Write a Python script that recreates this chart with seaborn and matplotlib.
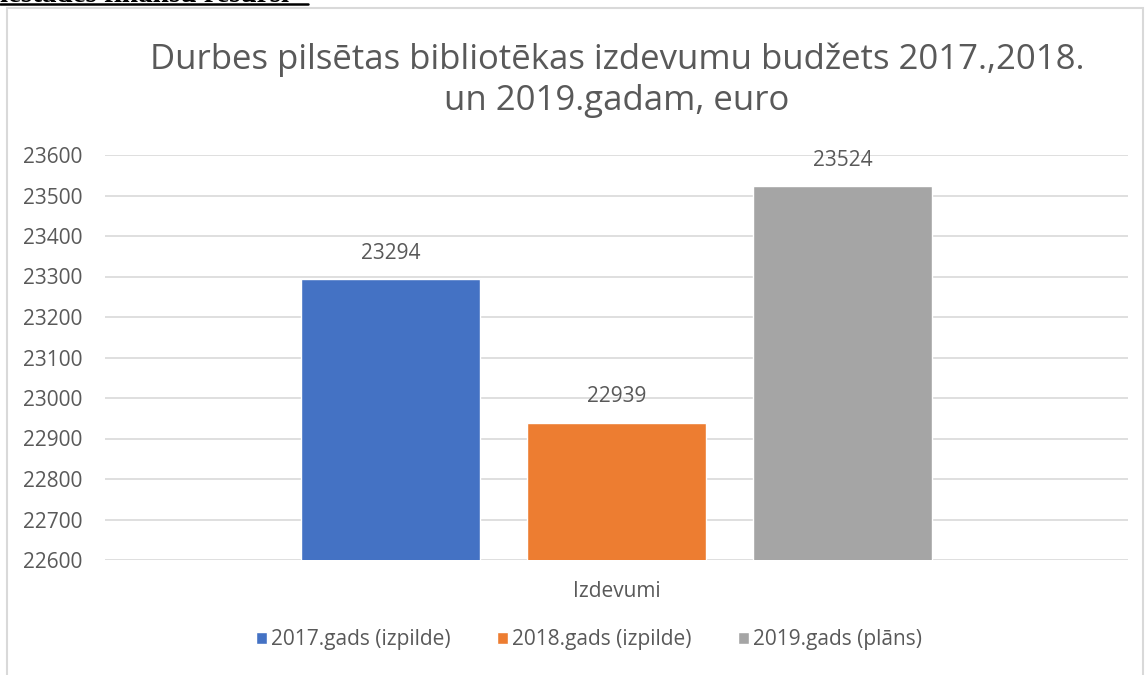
import pandas as pd
import matplotlib.pyplot as plt
import seaborn as sns
from matplotlib.patches import Rectangle
from matplotlib.lines import Line2D

# Chart data
category = ['Izdevumi']
series = ['2017.gads (izpilde)', '2018.gads (izpilde)', '2019.gads (plāns)']
values = [23294, 22939, 23524]
colors = ['#4472C4', '#ED7D31', '#A5A5A5']

df = pd.DataFrame({
    'cat': category * len(series),
    'series': series,
    'value': values,
})

sns.set_theme(style='white')
plt.rcParams['font.family'] = ['Open Sans', 'DejaVu Sans']
text_col = '#595959'

fig = plt.figure(figsize=(11.45, 6.75), dpi=100)
ax = fig.add_axes([105 / 1145, 1 - 560 / 675, 1023 / 1145, 405 / 675])

sns.barplot(data=df, x='cat', y='value', hue='series', palette=colors,
            width=0.663, gap=0.21, ax=ax, saturation=1, legend=True)

ax.set_ylim(22600, 23600)
ax.set_yticks(range(22600, 23601, 100))
ax.set_xlim(-0.5, 0.5)
ax.grid(axis='y', color='#D9D9D9', linewidth=1.2)
ax.set_axisbelow(True)
for s in ax.spines.values():
    s.set_visible(False)
ax.tick_params(axis='y', length=0, pad=16, labelsize=15, labelcolor=text_col)
ax.tick_params(axis='x', length=0, pad=15, labelsize=15, labelcolor=text_col)
ax.set_xlabel('')
ax.set_ylabel('')

for cont in ax.containers:
    ax.bar_label(cont, fmt='%d', padding=11, fontsize=15, color=text_col)

ax.legend(loc='center', bbox_to_anchor=(589 / 1145, (675 - 640) / 675), bbox_transform=fig.transFigure,
          ncol=3, frameon=False, fontsize=15, labelcolor=text_col,
          handlelength=0.55, handleheight=0.55, handletextpad=0.2, columnspacing=2.2)

fig.text(617 / 1145, 1 - 80 / 675,
         'Durbes pilsētas bibliotēkas izdevumu budžets 2017.,2018.\nun 2019.gadam, euro',
         ha='center', va='center', fontsize=25, color=text_col, linespacing=1.27)

# chart frame
fig.add_artist(Rectangle((7 / 1145, -0.05), 1136 / 1145, 1.05 - 8 / 675, transform=fig.transFigure,
                         fill=False, edgecolor='#D9D9D9', linewidth=1.5))

# heading above the chart, cut off at the top edge as in the source page
fig.text(0.0, 1 - 2 / 675, 'iestādes finanšu resursi', ha='left', va='baseline',
         fontsize=21, family='Liberation Serif', fontweight='bold', color='black')
fig.add_artist(Line2D([0, 308 / 1145], [1 - 4 / 675, 1 - 4 / 675], transform=fig.transFigure,
                      color='black', linewidth=1.8))

fig.savefig('out.png', dpi=100, facecolor='white')
